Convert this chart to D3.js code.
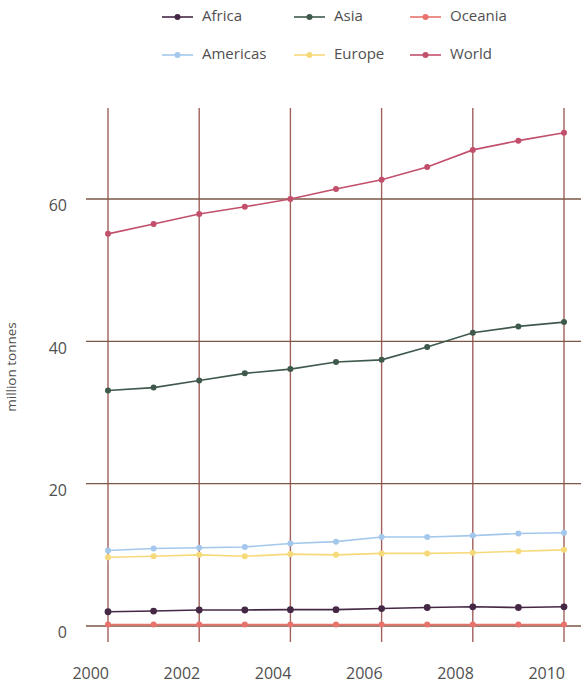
<!DOCTYPE html>
<html>
<head>
<meta charset="utf-8">
<script src="https://cdn.jsdelivr.net/npm/d3@7"></script>
<style>
  html, body { margin: 0; padding: 0; background: #fff; }
  svg { display: block; font-family: "Open Sans", Lato, sans-serif; }
</style>
</head>
<body>
<svg id="chart" width="581" height="684"></svg>
<script>
// Annual production by region, million tonnes
const years = [2000, 2001, 2002, 2003, 2004, 2005, 2006, 2007, 2008, 2009, 2010];
const africa   = [2.0, 2.1, 2.25, 2.25, 2.3, 2.3, 2.45, 2.6, 2.7, 2.6, 2.7];
const asia     = [33.1, 33.5, 34.5, 35.5, 36.1, 37.1, 37.4, 39.2, 41.2, 42.1, 42.7];
const oceania  = [0.2, 0.2, 0.2, 0.2, 0.2, 0.2, 0.2, 0.2, 0.2, 0.2, 0.2];
const americas = [10.6, 10.9, 11.0, 11.1, 11.6, 11.85, 12.5, 12.5, 12.7, 13.0, 13.1];
const europe   = [9.65, 9.8, 10.0, 9.8, 10.1, 10.0, 10.2, 10.2, 10.3, 10.5, 10.7];
const world    = [55.1, 56.5, 57.9, 58.9, 60.0, 61.4, 62.7, 64.5, 66.9, 68.2, 69.3];

const xTicks = [2000, 2002, 2004, 2006, 2008, 2010];
const yTicks = [0, 20, 40, 60];

const seriesNames  = ["Africa", "Asia", "Oceania", "Americas", "Europe", "World"];
const seriesColors = ["#452846", "#3f5a4c", "#e8736c", "#a4c8ec", "#f6da7a", "#c2506c"];
const seriesValues = [africa, asia, oceania, americas, europe, world];

const series = seriesNames.map((name, i) => ({
  name, color: seriesColors[i],
  points: years.map((yr, j) => ({ year: yr, value: seriesValues[i][j] }))
}));

const svg = d3.select("#chart");

const x = d3.scaleLinear().domain([2000, 2010]).range([108, 564]);
const y = d3.scaleLinear().domain([0, 60]).range([626, 199]);

const gridTop = 108, gridBottom = 642, gridLeft = 86, gridRight = 581;
const textColor = "#505050";

// vertical grid lines at the labelled years
svg.append("g")
  .selectAll("line")
  .data(xTicks)
  .join("line")
  .attr("x1", d => x(d)).attr("x2", d => x(d))
  .attr("y1", gridTop).attr("y2", gridBottom)
  .attr("stroke", "#a0605c")
  .attr("stroke-width", 1.4);

// horizontal grid lines
svg.append("g")
  .selectAll("line")
  .data(yTicks)
  .join("line")
  .attr("x1", gridLeft).attr("x2", gridRight)
  .attr("y1", d => y(d)).attr("y2", d => y(d))
  .attr("stroke", "#7c5646")
  .attr("stroke-width", 1.3);

// axis labels
svg.append("g")
  .selectAll("text")
  .data(yTicks)
  .join("text")
  .attr("x", 67)
  .attr("y", d => y(d) + 8)
  .attr("text-anchor", "end")
  .attr("dominant-baseline", "middle")
  .attr("font-size", 16)
  .attr("fill", textColor)
  .text(d => d);

svg.append("g")
  .selectAll("text")
  .data(xTicks)
  .join("text")
  .attr("x", d => x(d) + 1)
  .attr("y", 675)
  .attr("text-anchor", "end")
  .attr("dominant-baseline", "middle")
  .attr("font-size", 16)
  .attr("fill", textColor)
  .text(d => d);

svg.append("text")
  .attr("transform", "translate(15.5,367) rotate(-90)")
  .attr("text-anchor", "middle")
  .attr("font-size", 13.5)
  .attr("fill", textColor)
  .text("million tonnes");

// lines and markers, drawn so World ends on top
const line = d3.line().x(d => x(d.year)).y(d => y(d.value));
const drawOrder = ["Oceania", "Europe", "Americas", "Africa", "Asia", "World"];
drawOrder.forEach(name => {
  const s = series.find(t => t.name === name);
  const g = svg.append("g");
  g.append("path")
    .datum(s.points)
    .attr("d", line)
    .attr("fill", "none")
    .attr("stroke", s.color)
    .attr("stroke-width", 1.6);
  g.selectAll("circle")
    .data(s.points)
    .join("circle")
    .attr("cx", d => x(d.year))
    .attr("cy", d => y(d.value))
    .attr("r", name === "Africa" ? 3.4 : 3)
    .attr("fill", s.color);
});

// legend: two rows of three
const legendCols = [162, 294, 410];
const legendRows = [17, 55];
const legend = svg.append("g")
  .selectAll("g")
  .data(series)
  .join("g")
  .attr("transform", (d, i) => `translate(${legendCols[i % 3]},${legendRows[Math.floor(i / 3)]})`);
legend.append("line")
  .attr("x1", 0).attr("x2", 31)
  .attr("stroke", d => d.color).attr("stroke-width", 1.6);
legend.append("circle")
  .attr("cx", 15.5).attr("r", 3)
  .attr("fill", d => d.color);
legend.append("text")
  .attr("x", 40)
  .attr("dominant-baseline", "middle")
  .attr("font-size", 15)
  .attr("fill", textColor)
  .text(d => d.name);
</script>
</body>
</html>
